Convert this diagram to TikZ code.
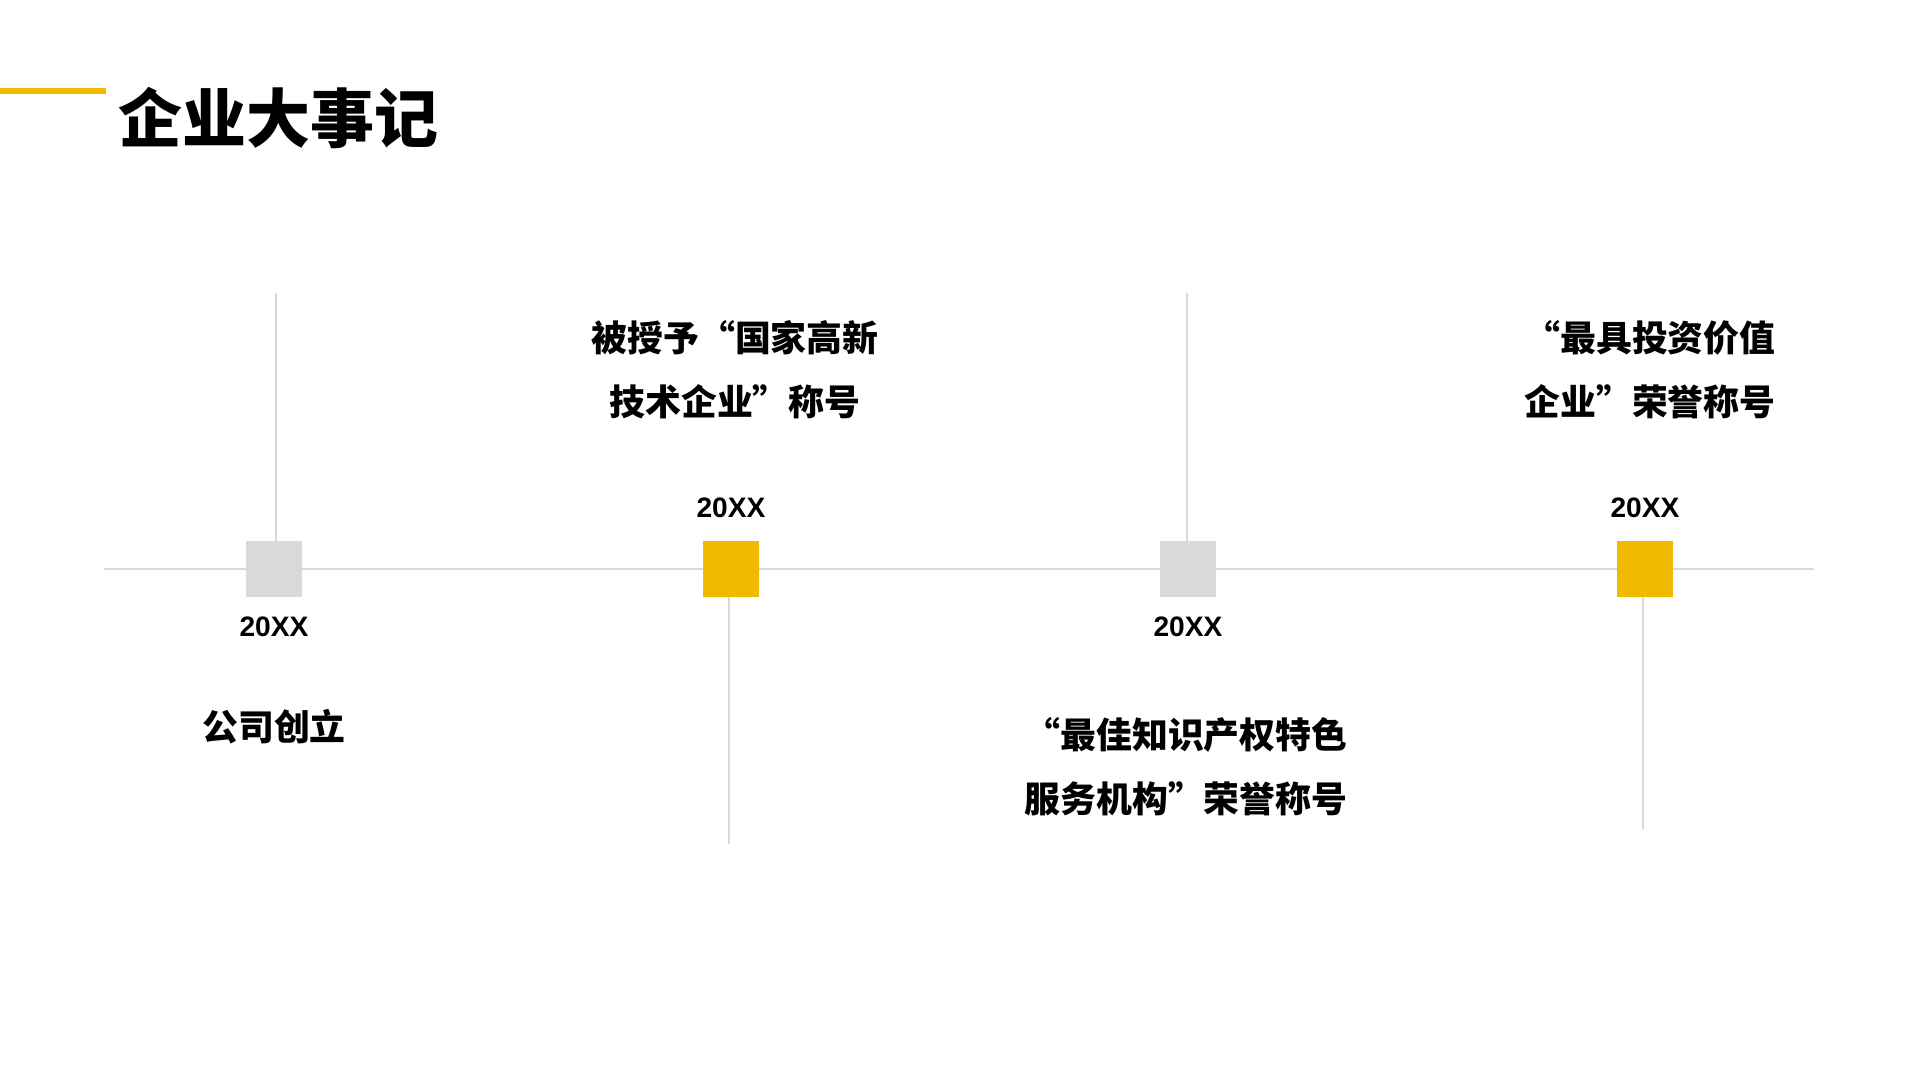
\documentclass[tikz,border=0pt]{standalone}
\usepackage{fontspec}
\setmainfont{Liberation Sans}
\newfontfamily\cjk{Noto Sans CJK SC}
\usetikzlibrary{positioning}
\definecolor{evtgold}{RGB}{240,186,0}
\definecolor{evtgray}{RGB}{217,217,217}
\tikzset{
  tlbar/.style   ={line width=1.7pt, evtgold},
  tlaxis/.style  ={line width=0.57pt, evtgray},
  tlstem/.style  ={line width=0.57pt, evtgray},
  tlmark/.style  ={rectangle, minimum size=5.6mm, inner sep=0pt},
  tlmgray/.style ={tlmark, fill=evtgray},
  tlmgold/.style ={tlmark, fill=evtgold},
  tlyear/.style  ={font=\bfseries\fontsize{8pt}{9pt}\selectfont, inner sep=0pt},
  tlevent/.style ={font=\cjk\bfseries\fontsize{10.2pt}{18.2pt}\selectfont,
                   align=center, inner sep=0pt},
  tltitle/.style ={font=\cjk\bfseries\fontsize{18.2pt}{20pt}\selectfont,
                   inner sep=0pt, anchor=west},
}
\begin{document}
\begin{tikzpicture}[x=0.01cm, y=-0.01cm]
  \useasboundingbox[fill=white] (0,0) rectangle (1920,1080);
  % title
  \coordinate (barL) at (0,91);
  \coordinate (barR) at (106,91);
  \draw[tlbar] (barL) -- (barR);
  \node[tltitle] (title) at (118,118) {企业大事记};
  % axis and marks
  \coordinate (axL) at (104,569);
  \coordinate (axR) at (1814,569);
  \draw[tlaxis] (axL) -- (axR);
  \coordinate (s1) at (276,293);
  \coordinate (s2) at (729,844);
  \coordinate (s3) at (1187,293);
  \coordinate (s4) at (1643,829);
  \draw[tlstem] (s1) -- (s1 |- axL);
  \draw[tlstem] (s2) -- (s2 |- axL);
  \draw[tlstem] (s3) -- (s3 |- axL);
  \draw[tlstem] (s4) -- (s4 |- axL);
  \node[tlmgray] (m1) at (274,569) {};
  \node[tlmgold] (m2) at (731,569) {};
  \node[tlmgray] (m3) at (1188,569) {};
  \node[tlmgold] (m4) at (1645,569) {};
  % years
  \node[tlyear] (y1) at (274,627) {20XX};
  \node[tlyear] (y2) at (731,508) {20XX};
  \node[tlyear] (y3) at (1188,627) {20XX};
  \node[tlyear] (y4) at (1645,508) {20XX};
  % events
  \node[tlevent] (e1) at (274,727) {公司创立};
  \node[tlevent] (e2) at (735,370) {被授予“国家高新\\技术企业”称号};
  \node[tlevent] (e3) at (1186,767) {“最佳知识产权特色\\服务机构”荣誉称号};
  \node[tlevent] (e4) at (1650,370) {“最具投资价值\\企业”荣誉称号};
\end{tikzpicture}
\end{document}
